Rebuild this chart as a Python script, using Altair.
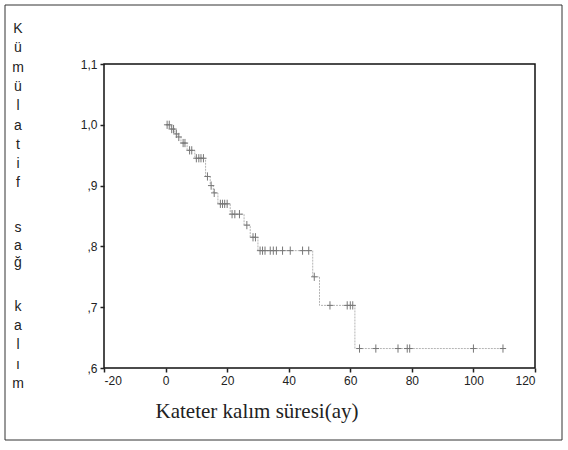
import altair as alt
import pandas as pd

# Kaplan-Meier step curve (time in months, cumulative survival)
step_times = [0, 1.8, 3, 4, 5, 7, 9.5, 13, 14.5, 15.5, 17, 21, 25.5, 27.5, 30, 47.8, 50, 61.5, 110]
step_surv = [1.0, 0.993, 0.985, 0.98, 0.97, 0.958, 0.945, 0.915, 0.9, 0.888, 0.87, 0.853, 0.835,
             0.815, 0.793, 0.75, 0.703, 0.632, 0.632]

# censored observations (+ marks)
cens_times = [0.5, 1.2, 2, 2.6, 3.5, 4.3, 5.7, 6.3, 7.8, 8.5, 10, 10.8, 11.5, 12.3, 13.6, 14.8, 15.8,
              17.8, 18.5, 19.2, 20, 21.6, 22.5, 24, 26.4, 28.4, 29.2, 30.7, 31.5, 32.3, 34, 35, 36,
              38, 40.5, 44.5, 46.5, 48.3, 53.4, 59, 60, 60.8, 63, 68.3, 75.5, 78.5, 79.3, 100, 109.6]
cens_surv = [1.0, 1.0, 0.993, 0.993, 0.985, 0.98, 0.97, 0.97, 0.958, 0.958, 0.945, 0.945, 0.945, 0.945,
             0.915, 0.9, 0.888, 0.87, 0.87, 0.87, 0.87, 0.853, 0.853, 0.853, 0.835, 0.815, 0.815,
             0.793, 0.793, 0.793, 0.793, 0.793, 0.793, 0.793, 0.793, 0.793, 0.793, 0.75, 0.703,
             0.703, 0.703, 0.703, 0.632, 0.632, 0.632, 0.632, 0.632, 0.632, 0.632]

x_ticks = [-20, 0, 20, 40, 60, 80, 100, 120]
y_ticks = [0.6, 0.7, 0.8, 0.9, 1.0, 1.1]

y_title_parts = ["K\nü\nm\nü\nl\na\nt\ni\nf", "s\na\nğ", "k\na\nl\nı\nm"]
x_title = "Kateter kalım süresi(ay)"

steps = pd.DataFrame({"t": step_times, "s": step_surv})
cens = pd.DataFrame({"t": cens_times, "s": cens_surv})
one = pd.DataFrame({"a": [0]})

xscale = alt.Scale(domain=[-20, 120], nice=False, zero=False)
yscale = alt.Scale(domain=[0.6, 1.1], nice=False, zero=False)

x_enc = alt.X("t:Q", scale=xscale, title=None,
              axis=alt.Axis(values=x_ticks, labelExpr="toString(datum.value)"))
y_enc = alt.Y("s:Q", scale=yscale, title=None,
              axis=alt.Axis(values=y_ticks,
                            labelExpr="replace(replace(format(datum.value, '.1f'), '0.', '.'), '.', ',')"))

line = alt.Chart(steps).mark_line(interpolate="step-after", color="#b4b4b4",
                                  strokeWidth=1, strokeDash=[2, 1]).encode(x=x_enc, y=y_enc)

cross_path = "M-1,0L1,0M0,-1.3L0,1.3"
points = alt.Chart(cens).mark_point(shape=cross_path, filled=False, size=40,
                                    color="#777777", strokeWidth=1, opacity=1).encode(
    x=alt.X("t:Q", scale=xscale), y=alt.Y("s:Q", scale=yscale))

border = alt.Chart(one).mark_rect(fill="white", fillOpacity=0, stroke="#333", strokeWidth=1).encode(
    x=alt.value(-99), x2=alt.value(458), y=alt.value(-59), y2=alt.value(376))

ytexts = []
y_starts = [-31, 168, 247]
lhs = [19.3, 17.5, 19.2]
for part, y0, lh in zip(y_title_parts, y_starts, lhs):
    ytexts.append(alt.Chart(one).mark_text(text=part, lineBreak="\n", lineHeight=lh,
                                            font="Liberation Sans", fontSize=14, color="#222",
                                            align="center", baseline="alphabetic").encode(
        x=alt.value(-86), y=alt.value(y0)))

xtitle = alt.Chart(one).mark_text(text=x_title, font="Liberation Serif", fontSize=21,
                                  color="#222", align="center", baseline="middle").encode(
    x=alt.value(153), y=alt.value(348))

chart = alt.layer(border, line, points, xtitle, *ytexts).properties(
    width=431, height=304,
    autosize=alt.AutoSizeParams(type="none"),
    padding={"left": 104, "top": 64, "right": 33, "bottom": 82},
    background="white",
).configure_view(stroke="#111", strokeWidth=1.5).configure_axis(
    grid=False, domain=False, ticks=True, tickColor="#222", tickSize=4, tickWidth=1.5,
    labelFont="Liberation Sans", labelFontSize=12, labelColor="#222", labelPadding=3,
)

chart.save("out.html", embed_options={"renderer": "svg", "actions": False})
